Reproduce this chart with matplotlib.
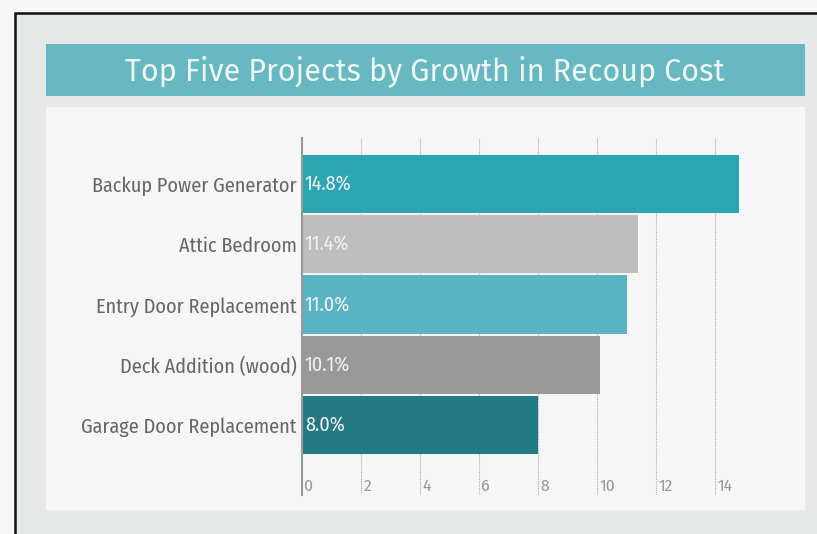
import matplotlib.pyplot as plt
from matplotlib.patches import Rectangle
from matplotlib.transforms import blended_transform_factory

projects = ["Backup Power Generator", "Attic Bedroom", "Entry Door Replacement",
            "Deck Addition (wood)", "Garage Door Replacement"]
growth = [14.8, 11.4, 11.0, 10.1, 8.0]
bar_colors = ["#2ea5b3", "#bdbdbd", "#5ab4c3", "#999999", "#247a84"]
xticks = [0, 2, 4, 6, 8, 10, 12, 14]

W, H = 817, 534
fig = plt.figure(figsize=(W / 100, H / 100), dpi=100)
fig.patch.set_facecolor("#f7f7f7")

narrow = ["Fira Sans Condensed", "DejaVu Sans"]


def box(x0, y0, x1, y1, **kw):
    fig.patches.append(Rectangle((x0 / W, 1 - y1 / H), (x1 - x0) / W, (y1 - y0) / H,
                                 transform=fig.transFigure, zorder=-5, **kw))


# outer frame, title banner, panel
box(15, 13, 830, 545, facecolor="#e7e8e8", edgecolor="#111111", linewidth=1.8)
box(46, 44, 805, 96, facecolor="#67b8c1", edgecolor="none")
box(46, 107, 805, 510, facecolor="#f6f6f6", edgecolor="none")
fig.text(425 / W, 1 - 71 / H, "Top Five Projects by Growth in Recoup Cost",
         ha="center", va="center", color="#eef8f8", fontsize=22,
         family=["Fira Sans", "DejaVu Sans"], fontweight="normal")

ax = fig.add_axes([302 / W, 1 - 495 / H, (774 - 302) / W, (495 - 138) / H])
ax.set_zorder(3)
ax.set_facecolor("none")
pos = list(range(len(projects)))
ax.barh(pos, growth, height=0.97, color=bar_colors, edgecolor="none", zorder=2)
ax.set_xlim(0, 16)
ax.set_ylim(5.16, -0.763)

for x in xticks[1:]:
    ax.axvline(x, color="#aaaaaa", linestyle=(0, (1, 1)), linewidth=0.8, zorder=1)

ax.set_yticks(pos)
ax.set_yticklabels(projects, family=narrow, fontsize=14.5, color="#666666")
ax.tick_params(axis="y", length=0, pad=4)
ax.set_xticks([])
for s in ["top", "right", "bottom"]:
    ax.spines[s].set_visible(False)
ax.spines["left"].set_color("#999999")
ax.spines["left"].set_linewidth(1.5)

trans = blended_transform_factory(ax.transData, ax.transAxes)
for x in xticks:
    ax.text(x + 0.08, 0.025, str(x), transform=trans, ha="left", va="center",
            family=narrow, fontsize=12.5, color="#999999")

for p, v in zip(pos, growth):
    ax.text(0.1, p, f"{v:.1f}%", ha="left", va="center", family=narrow,
            fontsize=14.5, color="#f2f2f2", zorder=3)

fig.savefig("out.png", dpi=100, facecolor=fig.get_facecolor())
